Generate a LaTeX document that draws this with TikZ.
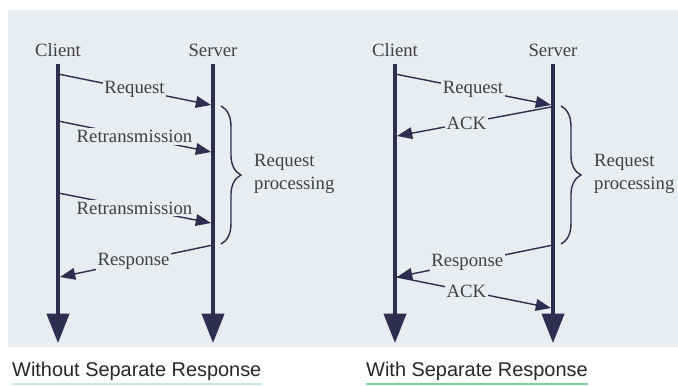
\documentclass[tikz,border=0pt]{standalone}
\usepackage{fontspec}
\setmainfont{Liberation Serif}
\newfontfamily\capfont{Liberation Sans}
\usetikzlibrary{arrows.meta,decorations.pathreplacing}

\definecolor{panel}{HTML}{E9ECF0}
\definecolor{ink}{HTML}{2E2E50}
\definecolor{txt}{HTML}{404049}
\definecolor{link}{HTML}{7ED39A}

\tikzset{
  role/.style={text=txt, font=\fontsize{16}{19}\selectfont},
  life/.style={ink, line width=2.6pt, -{Triangle[length=25pt, width=19pt]}},
  msg/.style={ink, line width=1.2pt, -{Triangle[length=13pt, width=10pt]}},
  msglabel/.style={fill=panel, text=txt, inner sep=1.5pt, font=\fontsize{16}{19}\selectfont},
  procbrace/.style={ink, line width=1.2pt, decorate, decoration={brace, amplitude=17pt}},
  caption/.style={anchor=west, inner sep=0pt, text=black!85, font=\capfont\fontsize{17}{20}\selectfont},
}

\begin{document}
\begin{tikzpicture}[x=0.03cm, y=-0.03cm]
    \useasboundingbox (0,0) rectangle (678,385);
    \fill[panel] (8,10) rectangle (678,347);

    % without separate response
    \node[role] (client1) at (58,50) {Client};
    \node[role] (server1) at (213,50) {Server};
    \coordinate (cend1) at (58,343);
    \coordinate (send1) at (213,343);
    \draw[life] (58,64) -- (cend1);
    \draw[life] (213,64) -- (send1);

    \coordinate (a1) at (58,74);   \coordinate (b1) at (211,105);
    \coordinate (a2) at (58,121);  \coordinate (b2) at (211,152);
    \coordinate (a3) at (58,193);  \coordinate (b3) at (211,223);
    \coordinate (b4) at (213,245); \coordinate (a4) at (60,277);

    \draw[msg] (a1) -- node[msglabel] (req1) {Request} (b1);
    \draw[msg] (a2) -- node[msglabel] (retr1) {Retransmission} (b2);
    \draw[msg] (a3) -- node[msglabel] (retr2) {Retransmission} (b3);
    \draw[msg] (b4) -- node[msglabel, pos=0.52] (resp1) {Response} (a4);

    \coordinate (brtop1) at (221,106);
    \coordinate (brbot1) at (221,244);
    \draw[procbrace] (brtop1) -- (brbot1);
    \node[role, anchor=west, align=left, inner sep=0pt] (proc1) at (254,174) {Request\\processing};

    \node[caption] (cap1) at (12,371) {Without Separate Response};
    \draw[link!45, line width=1pt] ([yshift=-3pt]cap1.south west) -- ([yshift=-3pt]cap1.south east);

    % with separate response
    \node[role] (client2) at (395,50) {Client};
    \node[role] (server2) at (553,50) {Server};
    \coordinate (cend2) at (395,343);
    \coordinate (send2) at (553,343);
    \draw[life] (395,64) -- (cend2);
    \draw[life] (553,64) -- (send2);

    \coordinate (c1) at (395,74);  \coordinate (d1) at (551,105);
    \coordinate (d2) at (551,107); \coordinate (c2) at (397,136);
    \coordinate (d3) at (553,245); \coordinate (c3) at (397,277);
    \coordinate (c4) at (397,277); \coordinate (d4) at (551,308);

    \draw[msg] (c1) -- node[msglabel] (req2) {Request} (d1);
    \draw[msg] (d2) -- node[msglabel, pos=0.55] (ack1) {ACK} (c2);
    \draw[msg] (d3) -- node[msglabel, pos=0.55] (resp2) {Response} (c3);
    \draw[msg] (c4) -- node[msglabel, pos=0.45] (ack2) {ACK} (d4);

    \coordinate (brtop2) at (561,106);
    \coordinate (brbot2) at (561,244);
    \draw[procbrace] (brtop2) -- (brbot2);
    \node[role, anchor=west, align=left, inner sep=0pt] (proc2) at (594,174) {Request\\processing};

    \node[caption] (cap2) at (366,371) {With Separate Response};
    \draw[link, line width=1pt] ([yshift=-3pt]cap2.south west) -- ([yshift=-3pt]cap2.south east);
\end{tikzpicture}
\end{document}
